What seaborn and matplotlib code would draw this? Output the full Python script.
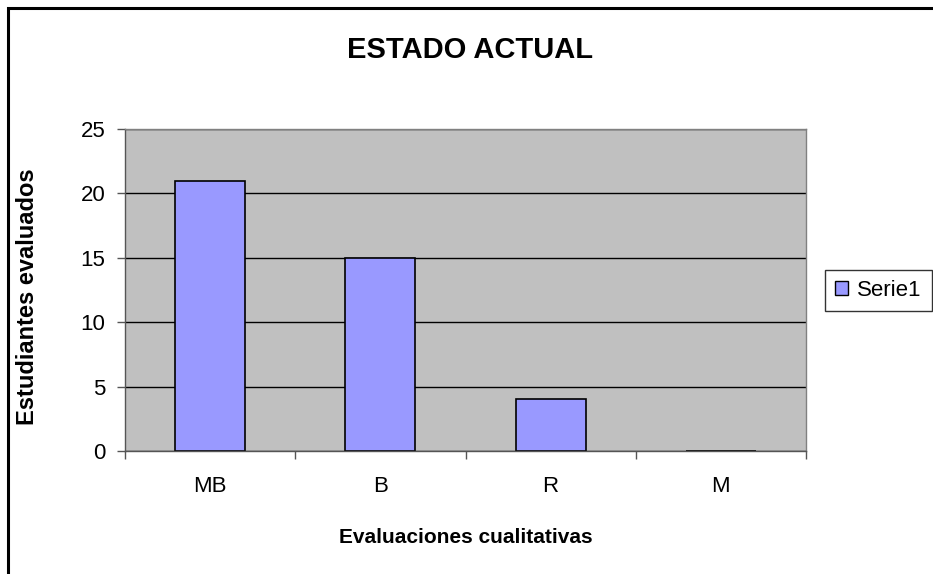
import matplotlib
matplotlib.use("Agg")
import matplotlib.pyplot as plt
import seaborn as sns
import pandas as pd
from matplotlib.patches import Rectangle, Patch

# -------------------------------
# Data
# -------------------------------
categorias = ["MB", "B", "R", "M"]
estudiantes = [21, 15, 4, 0]
serie = "Serie1"

df = pd.DataFrame({"Evaluacion": categorias, "Estudiantes": estudiantes})

sns.set_style("white", {"xtick.bottom": True, "ytick.left": True,
                        "text.color": "black", "xtick.color": "black",
                        "ytick.color": "black", "axes.labelcolor": "black"})
plt.rcParams["font.family"] = ["Liberation Sans", "DejaVu Sans"]

fig = plt.figure(figsize=(9.33, 5.74), dpi=100)
ax = fig.add_axes([125 / 933, 1 - 451 / 574, (806 - 125) / 933, (451 - 129) / 574])

# outer chart border (only left/top visible in the reference)
fig.patches.append(Rectangle((8 / 933, -0.1), 1.2, 1 - 8 / 574 + 0.1,
                             transform=fig.transFigure, fill=False,
                             edgecolor="black", linewidth=2.2))

ax.set_facecolor("#C0C0C0")
ax.set_axisbelow(True)
ax.yaxis.grid(True, color="#000000", linewidth=1.0)

sns.barplot(data=df, x="Evaluacion", y="Estudiantes", color="#9999FF",
            width=0.41, edgecolor="black", linewidth=1.2, saturation=1, ax=ax)

ax.set_ylim(0, 25)
ax.set_yticks([0, 5, 10, 15, 20, 25])
ax.set_xlim(-0.5, 3.5)
ax.set_xticks([0, 1, 2, 3])
ax.set_xticklabels(categorias)
ax.set_xticks([-0.5, 0.5, 1.5, 2.5, 3.5], minor=True)
ax.tick_params(axis="x", which="major", length=0, pad=18, labelsize=16, labelcolor="black")
ax.tick_params(axis="x", which="minor", length=6, width=1, color="#555555", direction="out")
ax.tick_params(axis="y", length=6, width=1, color="#555555", direction="out", pad=8,
               labelsize=16, labelcolor="black")

for side in ["top", "right"]:
    ax.spines[side].set_color("#808080")
    ax.spines[side].set_linewidth(1)
for side in ["left", "bottom"]:
    ax.spines[side].set_color("#555555")
    ax.spines[side].set_linewidth(1)

ax.set_xlabel("Evaluaciones cualitativas", fontsize=15, fontweight="bold", labelpad=22,
              color="black")
ax.set_ylabel("Estudiantes evaluados", fontsize=17, fontweight="bold", color="black")
ax.yaxis.set_label_coords(-(125 - 39) / 681, 0.48)
fig.text(470 / 933, 1 - 50 / 574, "ESTADO ACTUAL", ha="center", va="center",
         fontsize=21, fontweight="bold", color="black")

handle = Patch(facecolor="#9999FF", edgecolor="black", linewidth=1, label=serie)
fig.legend(handles=[handle], loc="center left", bbox_to_anchor=(825 / 933, 1 - 290 / 574),
           frameon=True, fancybox=False, edgecolor="black", fontsize=16,
           handlelength=0.6, handleheight=0.6, handletextpad=0.4, borderpad=0.45,
           borderaxespad=0)

fig.savefig("out.png", dpi=100)
